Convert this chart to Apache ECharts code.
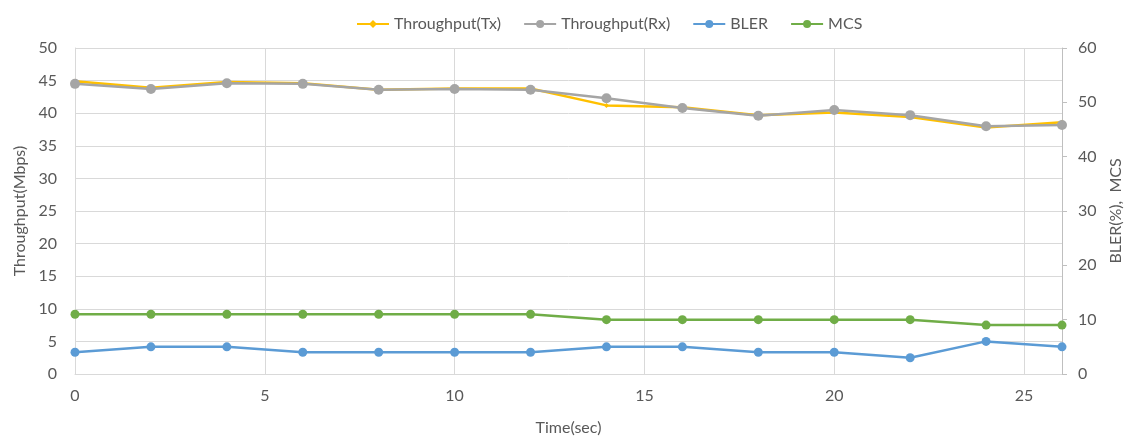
<!DOCTYPE html>
<html><head><meta charset="utf-8">
<script src="https://cdn.jsdelivr.net/npm/echarts@6/dist/echarts.min.js"></script>
<style>html,body{margin:0;padding:0;background:#fff}#c{width:1130px;height:440px}</style>
</head><body><div id="c"></div>
<script>
const times = [0,2,4,6,8,10,12,14,16,18,20,22,24,26];
const txThroughput = [44.9,43.9,44.8,44.6,43.6,43.8,43.8,41.2,40.9,39.7,40.1,39.4,37.8,38.6];
const rxThroughput = [44.5,43.7,44.6,44.5,43.6,43.7,43.6,42.3,40.8,39.6,40.5,39.7,38.0,38.2];
const bler = [4,5,5,4,4,4,4,5,5,4,4,3,6,5];
const mcs = [11,11,11,11,11,11,11,10,10,10,10,10,9,9];
const leftTicks = {min:0,max:50,interval:5};
const rightTicks = {min:0,max:60,interval:10};
const xTicks = {min:0,max:26,interval:5};

const pair = (xs, ys) => xs.map((x,i)=>[x, ys[i]]);
const font = 'Lato, "Liberation Sans", sans-serif';
const txt = '#595959';
const chart = echarts.init(document.getElementById('c'));
chart.setOption({
  animation:false,
  textStyle:{fontFamily:font},
  legend:{
    left:351, top:11, itemWidth:32, itemHeight:10, itemGap:22,
    textStyle:{color:txt,fontSize:16,fontFamily:font},
    data:['Throughput(Tx)','Throughput(Rx)','BLER','MCS']
  },
  grid:{left:75,right:68,top:48,bottom:66,outerBoundsMode:'none',containLabel:false},
  xAxis:{
    type:'value', min:xTicks.min, max:xTicks.max, interval:xTicks.interval,
    name:'Time(sec)', nameLocation:'middle', nameGap:46,
    nameTextStyle:{color:txt,fontSize:16,fontFamily:font},
    axisLine:{show:true,lineStyle:{color:'#d9d9d9',width:1}},
    axisTick:{show:false},
    axisLabel:{color:txt,fontSize:16,margin:14,showMaxLabel:false,fontFamily:font},
    splitLine:{show:true,lineStyle:{color:'#d9d9d9',width:1}}
  },
  yAxis:[{
    type:'value', min:leftTicks.min, max:leftTicks.max, interval:leftTicks.interval,
    name:'Throughput(Mbps)', nameLocation:'middle', nameGap:46,
    nameTextStyle:{color:txt,fontSize:16,fontFamily:font},
    axisLine:{show:true,lineStyle:{color:'#d9d9d9',width:1}},
    axisTick:{show:false},
    axisLabel:{color:txt,fontSize:16,margin:18,fontFamily:font},
    splitLine:{show:true,lineStyle:{color:'#d9d9d9',width:1}}
  },{
    type:'value', position:'right', min:rightTicks.min, max:rightTicks.max, interval:rightTicks.interval,
    name:'BLER(%),  MCS', nameLocation:'middle', nameGap:45,
    nameTextStyle:{color:txt,fontSize:16,fontFamily:font},
    axisLine:{show:true,lineStyle:{color:'#bfbfbf',width:1}},
    axisTick:{show:true,length:5,lineStyle:{color:'#bfbfbf'}},
    axisLabel:{color:txt,fontSize:16,margin:16,fontFamily:font},
    splitLine:{show:false}
  }],
  series:[
    {name:'Throughput(Tx)',type:'line',yAxisIndex:0,data:pair(times,txThroughput),
     symbol:'diamond',symbolSize:5,showAllSymbol:true,
     lineStyle:{color:'#FFC000',width:2.5},itemStyle:{color:'#FFC000'}},
    {name:'Throughput(Rx)',type:'line',yAxisIndex:0,data:pair(times,rxThroughput),
     symbol:'circle',symbolSize:10,showAllSymbol:true,
     lineStyle:{color:'#A5A5A5',width:2.5},itemStyle:{color:'#A5A5A5'}},
    {name:'BLER',type:'line',yAxisIndex:1,data:pair(times,bler),
     symbol:'circle',symbolSize:9,showAllSymbol:true,
     lineStyle:{color:'#5B9BD5',width:2.5},itemStyle:{color:'#5B9BD5'}},
    {name:'MCS',type:'line',yAxisIndex:1,data:pair(times,mcs),
     symbol:'circle',symbolSize:9,showAllSymbol:true,
     lineStyle:{color:'#70AD47',width:2.5},itemStyle:{color:'#70AD47'}}
  ]
});
</script></body></html>
